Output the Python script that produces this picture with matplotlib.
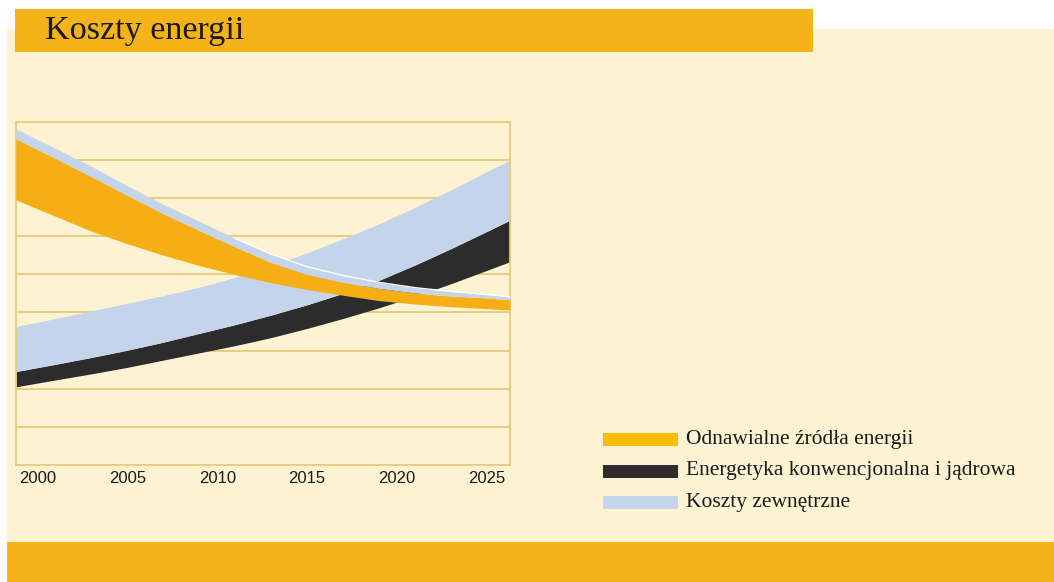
import numpy as np
import matplotlib
matplotlib.use("Agg")
import matplotlib.pyplot as plt
from matplotlib.patches import Rectangle

# ---------------- data (values in chart units, 0..9) ----------------
years = [1998.8, 2001, 2003, 2005, 2007, 2009, 2011, 2013, 2015, 2017, 2019, 2021, 2023, 2025, 2026.3]

# Renewables: orange band (bottom -> top) plus external-cost strip on top
ren_low  = [6.95, 6.52, 6.13, 5.80, 5.50, 5.23, 4.99, 4.78, 4.60, 4.45, 4.31, 4.22, 4.15, 4.10, 4.06]
ren_mid  = [8.55, 8.04, 7.56, 7.07, 6.59, 6.15, 5.72, 5.31, 5.00, 4.79, 4.63, 4.51, 4.43, 4.38, 4.33]
ren_high = [8.81, 8.30, 7.83, 7.32, 6.83, 6.39, 5.94, 5.53, 5.20, 4.97, 4.79, 4.65, 4.55, 4.47, 4.41]

# Conventional & nuclear: black band plus external-cost band on top
conv_low  = [2.05, 2.23, 2.39, 2.56, 2.75, 2.94, 3.13, 3.34, 3.58, 3.84, 4.12, 4.42, 4.75, 5.10, 5.33]
conv_mid  = [2.45, 2.64, 2.82, 3.01, 3.22, 3.45, 3.68, 3.93, 4.20, 4.50, 4.84, 5.24, 5.67, 6.12, 6.42]
conv_high = [3.63, 3.84, 4.04, 4.24, 4.44, 4.66, 4.92, 5.23, 5.56, 5.93, 6.32, 6.75, 7.21, 7.69, 7.99]

tick_years = [2000, 2005, 2010, 2015, 2020, 2025]
grid_levels = [1, 2, 3, 4, 5, 6, 7, 8]

title = "Koszty energii"
legend_labels = ["Odnawialne źródła energii",
                 "Energetyka konwencjonalna i jądrowa",
                 "Koszty zewnętrzne"]

# ---------------- style ----------------
CREAM = "#FDF3D2"
BAR = "#F5B31A"
ORANGE = "#F5AF14"
BLACK = "#2C2C2C"
BLUE = "#C4D4EA"
GRID = "#E6CB7C"
TEXT = "#1A1A1A"
SERIF = ["Liberation Serif", "DejaVu Serif"]
SANS = ["Liberation Sans", "DejaVu Sans"]

W, H = 1054, 582
fig = plt.figure(figsize=(W / 100, H / 100), dpi=100)
fig.patch.set_facecolor("white")


def fx(x):
    return x / W


def fy(y):
    return 1 - y / H


def prect(x0, y0, x1, y1, color, z):
    fig.add_artist(Rectangle((fx(x0), fy(y1)), fx(x1) - fx(x0), fy(y0) - fy(y1),
                             transform=fig.transFigure, facecolor=color,
                             edgecolor="none", zorder=z))


# background panels
prect(7, 29, W, H, CREAM, 0)
prect(15, 9, 813, 52, BAR, 1)
prect(7, 542, W, H, BAR, 1)

fig.text(fx(45), fy(30.5), title, fontsize=24.6, family=SERIF, color=TEXT,
         ha="left", va="center", zorder=3)

# ---------------- chart ----------------
ax = fig.add_axes([fx(16), fy(465), fx(510) - fx(16), fy(121.7) - fy(465)])
ax.set_facecolor(CREAM)
ax.set_zorder(2)
x = np.array(years)

for g in grid_levels:
    ax.axhline(g, color=GRID, lw=1.3, zorder=1)

ax.fill_between(x, conv_low, conv_mid, color=BLACK, lw=0, zorder=2)
ax.fill_between(x, conv_mid, conv_high, color=BLUE, lw=0, zorder=2)
ax.fill_between(x, ren_low, ren_mid, color=ORANGE, lw=0, zorder=3)
ax.fill_between(x, ren_mid, ren_high, color=BLUE, lw=0, zorder=3)
mask = x >= 2011
ax.plot(x[mask], np.array(ren_high)[mask], color="white", lw=1.0, zorder=4)

ax.set_xlim(years[0], years[-1])
ax.set_ylim(0, 9)
ax.set_yticks([])
ax.set_xticks(tick_years)
ax.set_xticklabels([str(t) for t in tick_years], fontsize=12, family=SANS, color=TEXT)
ax.tick_params(axis="x", length=0, pad=4)
for s in ax.spines.values():
    s.set_color(GRID)
    s.set_linewidth(1.3)

# ---------------- legend ----------------
swatch_colors = ["#F8BF00", BLACK, BLUE]
rows_y = [439.5, 471, 502.5]
for lab, col, yc in zip(legend_labels, swatch_colors, rows_y):
    prect(603, yc - 6.5, 678, yc + 6.5, col, 3)
    fig.text(fx(686), fy(yc), lab, fontsize=15.5, family=SERIF, color=TEXT,
             ha="left", va="center", zorder=4)

fig.savefig("out.png", dpi=100, facecolor=fig.get_facecolor())
